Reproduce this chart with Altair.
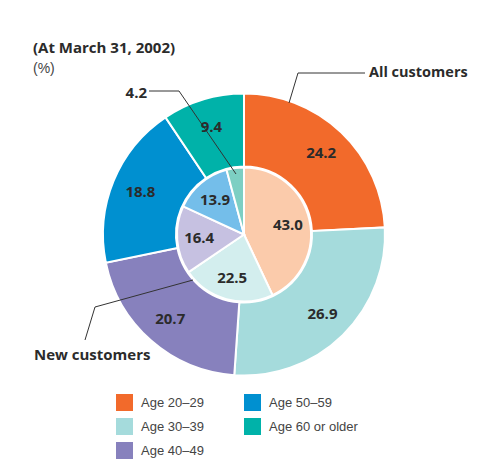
import altair as alt
import pandas as pd

# ---- data ----
ages = ["Age 20–29", "Age 30–39", "Age 40–49", "Age 50–59", "Age 60 or older"]
all_customers = [24.2, 26.9, 20.7, 18.8, 9.4]
new_customers = [43.0, 22.5, 16.4, 13.9, 4.2]
outer_colors = ["#F26A2B", "#A5DBDC", "#8781BD", "#0090D0", "#00B2A9"]
inner_colors = ["#FBCBAB", "#D3EEEE", "#C6C1E1", "#74BEEA", "#7DCFC3"]

outer_df = pd.DataFrame({"age": ages, "value": all_customers, "idx": range(len(ages))})
inner_df = pd.DataFrame({"age": ages, "value": new_customers, "idx": range(len(ages))})

CX, CY = 236, 226.5
BOLD = "Open Sans"
REG = "Liberation Sans"
INK = "#2b2b2b"

outer_scale = alt.Scale(domain=ages, range=outer_colors)
inner_scale = alt.Scale(domain=ages, range=inner_colors)

theta = alt.Theta("value:Q", stack=True, scale=alt.Scale(domain=[0, 100]))
order = alt.Order("idx:Q", sort="ascending")

outer_arc = alt.Chart(outer_df).mark_arc(
    outerRadius=141, innerRadius=68, stroke="white", strokeWidth=2
).encode(
    theta=theta, order=order,
    color=alt.Color("age:N", scale=outer_scale, title=None,
                    legend=alt.Legend(orient="none", legendX=108, legendY=386,
                                      columns=2, symbolType="square", symbolSize=289,
                                      symbolStrokeWidth=0, labelFontSize=13,
                                      labelFont=REG, labelColor="#444",
                                      labelOffset=8, rowPadding=7, columnPadding=40,
                                      labelBaseline="middle", labelLimit=200)),
    x=alt.value(CX), y=alt.value(CY),
)

inner_arc = alt.Chart(inner_df).mark_arc(
    outerRadius=67, innerRadius=0, stroke="white", strokeWidth=2
).encode(
    theta=theta, order=order,
    color=alt.Color("age:N", scale=inner_scale, legend=None),
    x=alt.value(CX), y=alt.value(CY),
)

outer_text = alt.Chart(outer_df).mark_text(
    radius=112, font=BOLD, fontWeight="bold", fontSize=15, color=INK
).encode(
    theta=theta, order=order,
    text=alt.Text("value:Q", format=".1f"),
    x=alt.value(CX), y=alt.value(CY),
)

inner_text = alt.Chart(inner_df).mark_text(
    radius=45, font=BOLD, fontWeight="bold", fontSize=15, color=INK
).encode(
    theta=theta, order=order,
    text=alt.Text("value:Q", format=".1f"),
    opacity=alt.condition("datum.value < 5", alt.value(0), alt.value(1)),
    x=alt.value(CX), y=alt.value(CY),
)

dummy = pd.DataFrame({"a": [0]})


def seg(x1, y1, x2, y2):
    return alt.Chart(dummy).mark_rule(color="#333", strokeWidth=1).encode(
        x=alt.value(x1), y=alt.value(y1), x2=alt.value(x2), y2=alt.value(y2)
    )


def label(txt, x, y, align="left", bold=True, size=15, color=INK):
    return alt.Chart(dummy).mark_text(
        text=txt, align=align, baseline="middle", fontSize=size,
        font=BOLD if bold else REG, fontWeight="bold" if bold else "normal",
        color=color
    ).encode(x=alt.value(x), y=alt.value(y))


lines = [
    seg(281, 95, 290, 65), seg(290, 65, 357, 65),
    seg(141, 83, 171, 83), seg(171, 83, 228, 166),
    seg(77, 332, 87, 299), seg(87, 299, 185, 272),
]
labels = [
    label("(At March 31, 2002)", 25, 40),
    label("(%)", 25, 61, bold=False, size=14, color="#444"),
    label("All customers", 361, 65, size=14.5),
    label("4.2", 139, 85, align="right"),
    label("New customers", 26, 347),
]

chart = alt.layer(outer_arc, inner_arc, *lines, outer_text, inner_text, *labels).resolve_scale(
    color="independent"
).properties(
    width=462, height=458, padding=0, autosize=alt.AutoSizeParams(type="none")
).configure_view(stroke=None)

chart.save("out.html", embed_options={"renderer": "svg", "actions": False})
